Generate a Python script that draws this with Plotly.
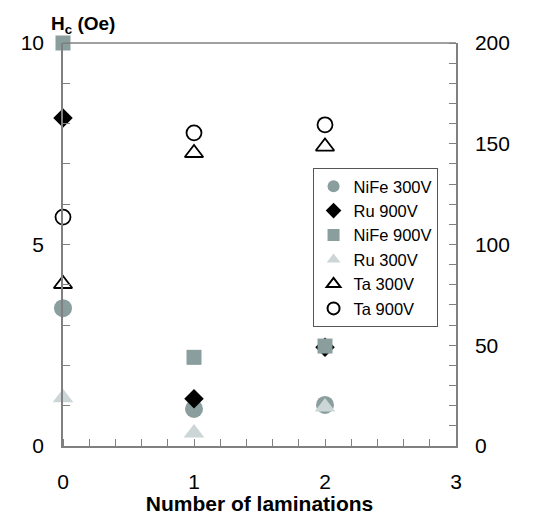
import plotly.graph_objects as go

x = [0, 1, 2]
nife_300 = [3.42, 0.92, 1.02]
ru_900 = [8.14, 1.17, 2.45]
nife_900 = [10.0, 2.2, 2.48]
ru_300 = [1.2, 0.32, 0.97]
ta_300 = [4.02, 7.27, 7.43]
ta_900 = [5.68, 7.77, 7.97]

GRAY = "#8a9e9e"
LIGHT = "#ccd6d6"
font = "Liberation Sans, Arial, sans-serif"

fig = go.Figure()
series = [
    ("NiFe 300V", nife_300, "circle", GRAY, 18, GRAY, 0),
    ("Ru 900V", ru_900, "diamond", "black", 15, "black", 0),
    ("NiFe 900V", nife_900, "square", GRAY, 15, GRAY, 0),
    ("Ru 300V", ru_300, "triangle-up", LIGHT, 18, LIGHT, 0),
    ("Ta 300V", ta_300, "triangle-up-open", "black", 16, "black", 1.8),
    ("Ta 900V", ta_900, "circle-open", "black", 15, "black", 1.8),
]
for name, ys, sym, col, size, lc, lw in series:
    fig.add_trace(go.Scatter(
        x=x, y=ys, mode="markers", name=name,
        marker=dict(symbol=sym, color=col, size=size, line=dict(color=lc, width=lw)),
        cliponaxis=False,
    ))
# invisible trace so the right axis is drawn
fig.add_trace(go.Scatter(x=[0], y=[0], yaxis="y2", mode="markers",
                         marker=dict(opacity=0), showlegend=False, hoverinfo="skip"))

fig.update_layout(
    width=527, height=507,
    margin=dict(l=55, r=79, t=35, b=69, autoexpand=False),
    paper_bgcolor="white", plot_bgcolor="white",
    font=dict(family=font, size=21, color="black"),
    showlegend=True,
    legend=dict(x=0.635, y=0.69, xanchor="left", yanchor="top",
                bordercolor="#555555", borderwidth=1, bgcolor="white",
                font=dict(size=16.5), itemwidth=30, tracegroupgap=0,
                itemsizing="constant"),
    xaxis=dict(range=[0, 3], tickvals=[0, 1, 2, 3], ticks="", showline=True,
               linecolor="#808080", linewidth=1.5, mirror=False, showgrid=False,
               zeroline=False, ticklabelstandoff=16, automargin=False,
               minor=dict(tickvals=[i * 0.2 for i in range(16)], ticks="inside",
                          ticklen=7, tickcolor="#808080", tickwidth=1.2),
               title=dict(text="<b>Number of laminations</b>", standoff=5,
                          font=dict(size=21))),
    yaxis=dict(range=[0, 10], tickvals=[0, 5, 10], ticks="", showline=True,
               linecolor="#808080", linewidth=1.5, showgrid=False, zeroline=False,
               ticklabelstandoff=13, automargin=False,
               minor=dict(tickvals=list(range(11)), ticks="inside", ticklen=7,
                          tickcolor="#808080", tickwidth=1.2)),
    yaxis2=dict(range=[0, 200], tickvals=[0, 50, 100, 150, 200], overlaying="y",
                side="right", ticks="", showline=True, linecolor="#808080",
                linewidth=1.5, showgrid=False, zeroline=False, ticklabelstandoff=13,
                automargin=False,
                minor=dict(tickvals=list(range(0, 201, 10)), ticks="inside",
                           ticklen=7, tickcolor="#808080", tickwidth=1.2)),
    shapes=[dict(type="line", xref="paper", yref="paper", x0=0, x1=1, y0=1, y1=1,
                 line=dict(color="#808080", width=1.5))],
    annotations=[dict(text="<b>H<sub>c</sub> (Oe)</b>", xref="paper", yref="paper",
                      x=0.05, y=1.01, xanchor="center", yanchor="bottom",
                      showarrow=False, font=dict(size=19))],
)

fig.write_html("out.html")
